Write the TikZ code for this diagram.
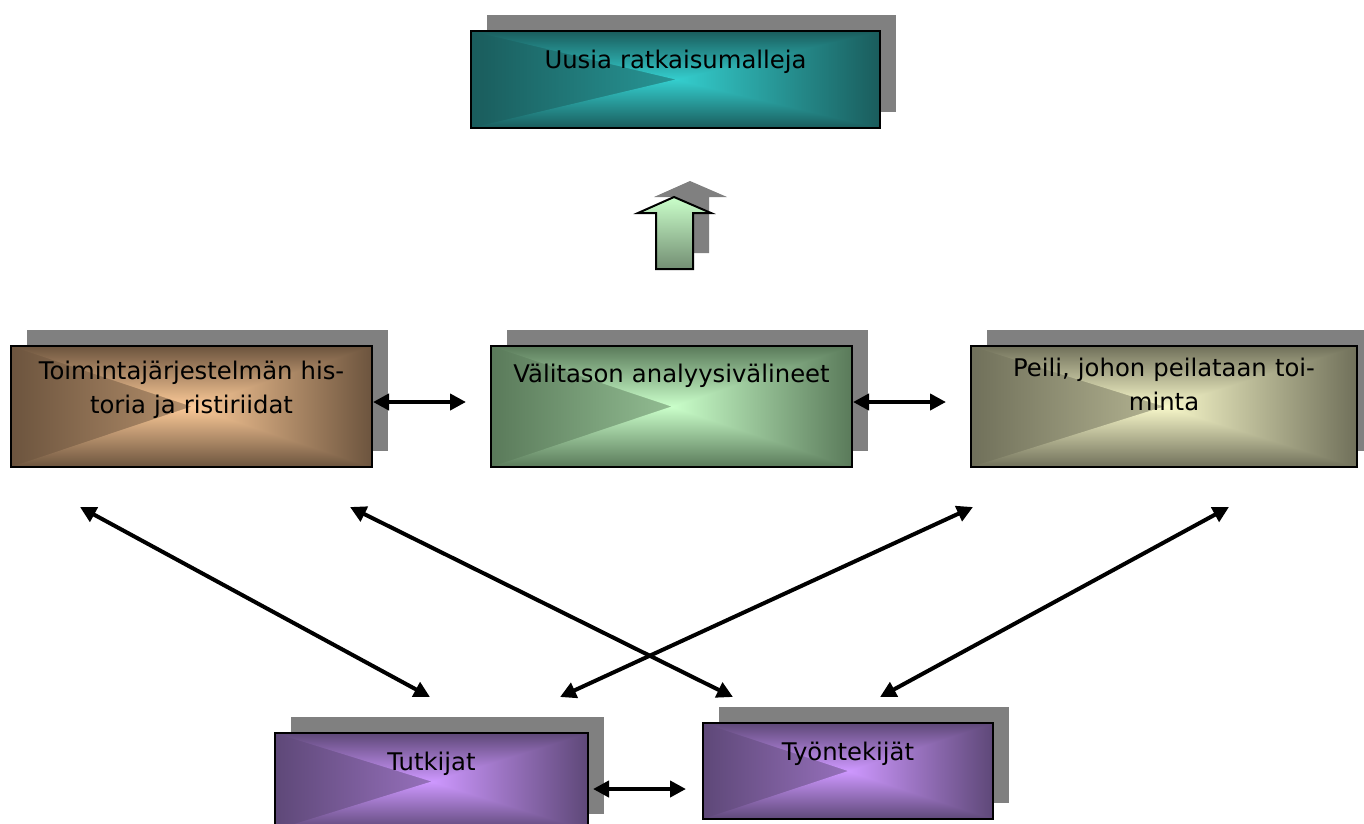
\documentclass[tikz,border=0pt]{standalone}
\usepackage{fontspec}
\setmainfont{DejaVu Sans}
\usetikzlibrary{arrows.meta,shadows}

\definecolor{tealD}{RGB}{26,92,92}
\definecolor{tealL}{RGB}{52,206,206}
\definecolor{brownD}{RGB}{108,84,62}
\definecolor{brownL}{RGB}{252,202,152}
\definecolor{greenD}{RGB}{90,122,90}
\definecolor{greenL}{RGB}{202,255,202}
\definecolor{oliveD}{RGB}{112,112,90}
\definecolor{oliveL}{RGB}{248,248,202}
\definecolor{lilaD}{RGB}{94,72,120}
\definecolor{lilaL}{RGB}{206,152,255}
\definecolor{shadowgray}{RGB}{128,128,128}
\colorlet{glowin}{white}
\colorlet{glowout}{black}

% horizontal shadings, fitted to the path without rotation
\pgfdeclarehorizontalshading[glowin,glowout]{glowleft}{100bp}{color(0bp)=(glowout); color(25bp)=(glowout); color(75bp)=(glowin); color(100bp)=(glowin)}
\pgfdeclarehorizontalshading[glowin,glowout]{glowright}{100bp}{color(0bp)=(glowin); color(25bp)=(glowin); color(75bp)=(glowout); color(100bp)=(glowout)}

\tikzset{
  glow/.style 2 args={path picture={
    \colorlet{glowin}{#1}\colorlet{glowout}{#2}
    \shade[shading=glowleft] (path picture bounding box.north west) rectangle (path picture bounding box.south);
    \shade[shading=glowright] (path picture bounding box.north) rectangle (path picture bounding box.south east);
    \shade[top color=#2, bottom color=#1] (path picture bounding box.north west) -- (path picture bounding box.center) -- (path picture bounding box.north east) -- cycle;
    \shade[top color=#1, bottom color=#2] (path picture bounding box.south west) -- (path picture bounding box.center) -- (path picture bounding box.south east) -- cycle;
  }},
  flat shadow/.style={drop shadow={shadow xshift=16pt, shadow yshift=16pt, opacity=1, fill=shadowgray}},
  box/.style={draw=black, line width=2pt, rectangle, anchor=north west, align=center,
    inner xsep=0pt, text height=18pt, flat shadow,
    font=\fontsize{24.3}{34}\selectfont},
  link/.style={line width=4pt, {Triangle[length=16pt,width=16pt]}-{Triangle[length=16pt,width=16pt]}}
}

\begin{document}
\begin{tikzpicture}[x=1pt,y=-1pt]
  \useasboundingbox (0,0) rectangle (1364,823);

  \node[box, glow={tealL}{tealD}, text width=409pt, inner ysep=19pt, text depth=41pt] (uusia) at (470,30) {Uusia ratkaisumalleja};

  % the big arrow up
  \path[draw=black, line width=2pt, top color=greenL, bottom color=greenD!85, flat shadow]
    (656,269) -- (656,213) -- (638,213) -- (674,197) -- (711,213) -- (693,213) -- (693,269) -- cycle;

  \node[box, glow={brownL}{brownD}, text width=361pt, inner ysep=15pt, text depth=73pt] (hist) at (10,345) {Toimintajärjestelmän his-\\toria ja ristiriidat};
  \node[box, glow={greenL}{greenD}, text width=361pt, inner ysep=18pt, text depth=67pt] (vali) at (490,345) {Välitason analyysivälineet};
  \node[box, glow={oliveL}{oliveD}, text width=386pt, inner ysep=12pt, text depth=79pt] (peili) at (970,345) {Peili, johon peilataan toi-\\minta};

  \node[box, glow={lilaL}{lilaD}, text width=313pt, inner ysep=19pt, text depth=41pt] (tutk) at (274,732) {Tutkijat};
  \node[box, glow={lilaL}{lilaD}, text width=290pt, inner ysep=19pt, text depth=40pt] (tyon) at (702,722) {Työntekijät};

  \coordinate (histL) at (80,507);
  \coordinate (histR) at (350,507);
  \coordinate (peiliL) at (973,507);
  \coordinate (peiliR) at (1229,507);
  \coordinate (tutkL) at (430,697);
  \coordinate (tutkR) at (560,697);
  \coordinate (tyonL) at (733,697);
  \coordinate (tyonR) at (880,697);

  \draw[link, shorten >=24pt] ([yshift=4.5pt]hist.east) -- ([yshift=4.5pt]vali.west);
  \draw[link, shorten >=24pt] ([yshift=4.5pt]vali.east) -- ([yshift=4.5pt]peili.west);
  \draw[link, shorten <=4pt, shorten >=16pt] ([yshift=-7.5pt]tutk.east) -- ([yshift=-7.5pt]tutk.east -| tyon.west);

  \draw[link] (histL) -- (tutkL);
  \draw[link] (histR) -- (tyonL);
  \draw[link] (peiliL) -- (tutkR);
  \draw[link] (peiliR) -- (tyonR);
\end{tikzpicture}
\end{document}
